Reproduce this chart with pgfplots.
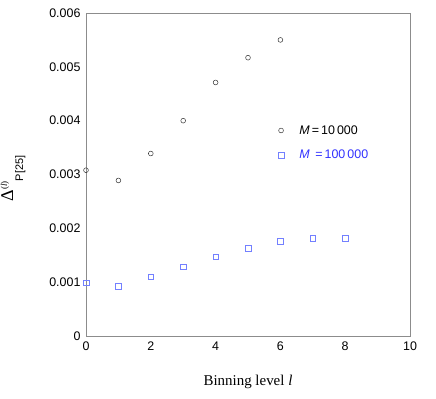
\documentclass[border=0pt]{standalone}
\usepackage{fontspec}
\setmainfont{Liberation Sans}
\newfontfamily\serif{Liberation Serif}
\usepackage{pgfplots}
\pgfplotsset{compat=1.18}
\definecolor{sqblue}{rgb}{0.45,0.5,1}
\definecolor{txtblue}{rgb}{0.2,0.2,1}
\definecolor{axgray}{rgb}{0.55,0.55,0.55}
\begin{document}
\begin{tikzpicture}[x=1bp,y=1bp]
\useasboundingbox (0,0) rectangle (436,398);
\begin{axis}[
  at={(86bp,62bp)}, anchor=south west,
  width=324bp, height=323bp, scale only axis,
  xmin=0, xmax=10, ymin=0, ymax=0.006,
  xtick={0,2,...,10}, ytick={0,0.001,...,0.006},
  major tick length=0pt,
  axis line style={axgray},
  /pgf/number format/assume math mode=true,
  tick label style={font=\fontsize{12.5}{14}\selectfont},
  yticklabel style={/pgf/number format/fixed, /pgf/number format/precision=3, xshift=-2bp},
  xticklabel style={yshift=-2bp},
  scaled y ticks=false,
  xlabel={\serif\fontsize{15}{17}\selectfont Binning level \textit{l}},
  xlabel style={yshift=-18bp},
  ylabel={\serif\fontsize{18}{20}\selectfont Δ\raise6bp\hbox{\fontsize{9}{10}\selectfont(\textit{l})}\lower10bp\hbox{\sffamily\setmainfont{Liberation Sans}\rmfamily\fontsize{11}{12}\selectfont P[25]}},
  ylabel style={yshift=17bp, xshift=-4bp},
  legend cell align=left,
  legend style={draw=none, fill=none, at={(0.582,0.665)}, anchor=north west,
    row sep=10.5bp, font=\fontsize{12.5}{14}\selectfont},
  legend image code/.code={\path (-3bp,0bp) (16bp,0bp); \draw[#1] plot coordinates {(0bp,0bp)};},
  clip=false,
]
\addplot[only marks, mark=o, mark size=2.4bp, draw=black!80, line width=0.5pt]
  coordinates {(0,0.00308) (1,0.00289) (2,0.00339) (3,0.00400) (4,0.00471) (5,0.00517) (6,0.00550)};
\addlegendentry{\textit{M}\,=\,10\,000}
\addplot[only marks, mark=square, mark size=2.8bp, draw=sqblue, line width=0.6pt]
  coordinates {(0,0.000987) (1,0.000926) (2,0.001098) (3,0.001284) (4,0.001475) (5,0.00163) (6,0.00176) (7,0.00182) (8,0.00182)};
\addlegendentry{\textcolor{txtblue}{\textit{M}\ \,=\,100\,000}}
\end{axis}
\end{tikzpicture}
\end{document}
